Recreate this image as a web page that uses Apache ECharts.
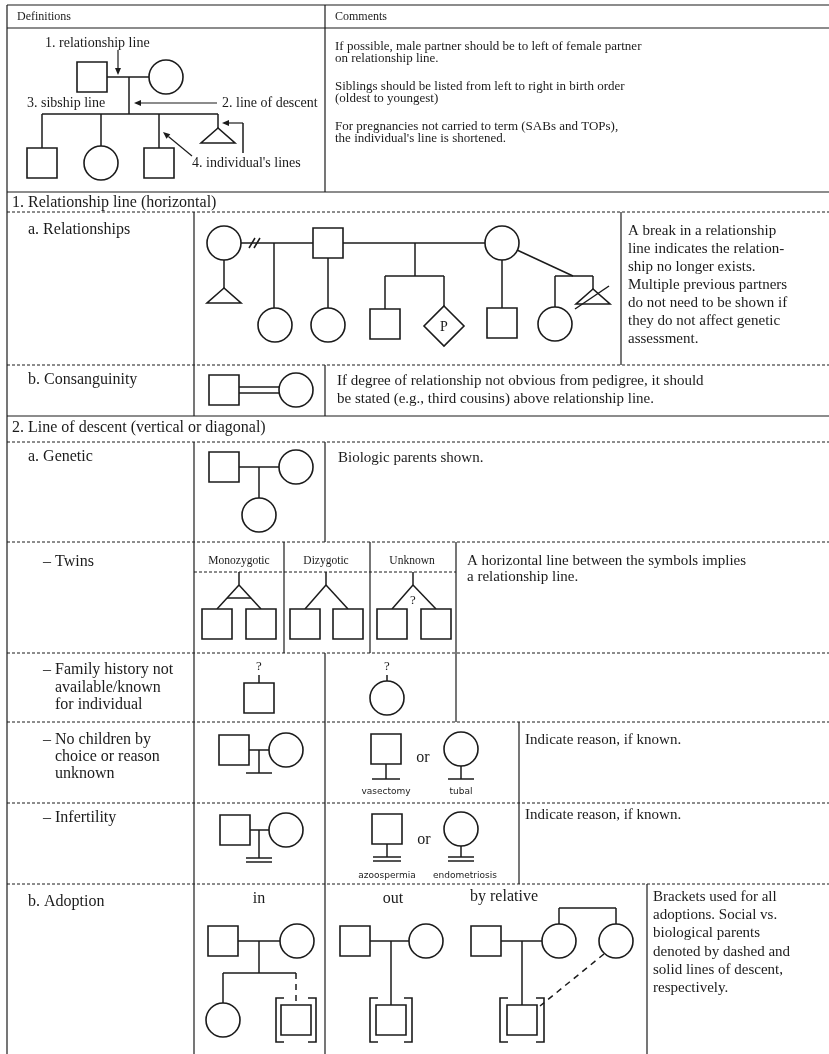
<!DOCTYPE html>
<html><head><meta charset="utf-8">
<script src="https://cdn.jsdelivr.net/npm/echarts/dist/echarts.min.js"></script>
<style>html,body{margin:0;padding:0;background:#fff}#c{width:829px;height:1054px}</style>
</head><body><div id="c"></div>
<script>
// ---------- table rules ----------
const tableSolid = [
  [7,5,829,5],[7,28,829,28],[7,192,829,192],[7,416,829,416],
  [7,5,7,1054],[325,5,325,192],
  [194,212,194,416],[194,442,194,1054],[621,212,621,365],
  [325,365,325,416],[325,442,325,542],[284,542,284,653],[370,542,370,653],[456,542,456,722],
  [325,653,325,1054],[519,722,519,884],[647,884,647,1054]
];
const tableDashed = [
  [7,212,829,212],[7,365,829,365],[7,442,829,442],[7,542,829,542],[194,572,456,572],
  [7,653,829,653],[7,722,829,722],[7,803,829,803],[7,884,829,884]
];
// ---------- pedigree symbols ----------
const squares = [
  [92,77],[42,163],[159,163],
  [328,243],[385,324],[502,323],
  [224,390],
  [224,467],
  [217,624],[261,624],[305,624],[348,624],[392,624],[436,624],
  [259,698],
  [234,750],[386,749],
  [235,830],[387,829],
  [223,941],[296,1020],[355,941],[391,1020],[486,941],[522,1020]
];
const circles = [
  [166,77],[101,163],
  [224,243],[275,325],[328,325],[502,243],[555,324],
  [296,390],
  [296,467],[259,515],
  [387,698],
  [286,750],[461,749],
  [286,830],[461,829],
  [297,941],[223,1020],[426,941],[559,941],[616,941]
];
const triangles = [[218,128],[224,288],[593,289]];
const diamonds = [[444,326,'P']];
const lines = [
  [107,77,149,77],[129,77,129,114],[42,114,218,114],[42,114,42,148],[101,114,101,146],[159,114,159,148],[218,114,218,128],[243,123,243,153],
  [241,243,313,243],[249,248,255,238],[254,248,260,238],[274,243,274,308],[328,258,328,308],[343,243,485,243],
  [415,243,415,276],[385,276,444,276],[385,276,385,309],[444,276,444,306],[502,260,502,308],
  [517,250,573,276],[555,276,593,276],[555,276,555,307],[593,276,593,289],[224,260,224,288],[575,309,609,286],
  [239,387,279,387],[239,393,279,393],
  [239,467,279,467],[259,467,259,498],
  [239,572,239,585],[239,585,217,609],[239,585,261,609],[227,598,251,598],
  [326,572,326,585],[326,585,305,609],[326,585,348,609],
  [413,572,413,585],[413,585,392,609],[413,585,436,609],
  [259,675,259,683],[387,675,387,681],
  [249,750,269,750],[259,750,259,773],[246,773,272,773],[386,764,386,779],[372,779,400,779],[461,766,461,779],[448,779,474,779],
  [250,830,269,830],[259,830,259,858],[246,858,272,858],[246,862,272,862],[387,844,387,857],[373,857,401,857],[373,861,401,861],
  [461,846,461,857],[448,857,474,857],[448,861,474,861],
  [238,941,280,941],[259,941,259,973],[223,973,296,973],[223,973,223,1003],
  [370,941,409,941],[391,941,391,1005],
  [501,941,542,941],[522,941,522,1005],[559,924,559,908],[559,908,616,908],[616,908,616,924]
];
const dashedLines = [[296,973,296,1005],[604,954,540,1006]];
const arrows = [[118,50,118,75],[217,103,134,103],[243,123,222,123],[192,156,163,132]];
const brackets = [[276,316,998,1042],[370,412,998,1042],[500,544,998,1042]];
// ---------- texts ----------
const headerTexts = [['Definitions',17,17],['Comments',335,17]];
const defTexts = [['1. relationship line',45,43],['3. sibship line',27,103],['2. line of descent',222,103],["4. individual's lines",192,163]];
const commentTexts = [
  ['If possible, male partner should be to left of female partner',335,47],['on relationship line.',335,59],
  ['Siblings should be listed from left to right in birth order',335,87],['(oldest to youngest)',335,99],
  ['For pregnancies not carried to term (SABs and TOPs),',335,127],["the individual's line is shortened.",335,139]
];
const sectionTexts = [['1. Relationship line (horizontal)',12,203],['2. Line of descent (vertical or diagonal)',12,428]];
const labelTexts = [
  ['a. Relationships',28,230],['b. Consanguinity',28,380],['a. Genetic',28,457],['– Twins',43,562],
  ['– Family history not',43,670],['available/known',55,688],['for individual',55,705],
  ['– No children by',43,740],['choice or reason',55,757],['unknown',55,774],
  ['– Infertility',43,818],['b. Adoption',28,902]
];
const bodyTexts = [
  ['A break in a relationship',628,231],['line indicates the relation-',628,249],['ship no longer exists.',628,267],
  ['Multiple previous partners',628,285],['do not need to be shown if',628,303],['they do not affect genetic',628,321],['assessment.',628,339],
  ['If degree of relationship not obvious from pedigree, it should',337,381],['be stated (e.g., third cousins) above relationship line.',337,399],
  ['Biologic parents shown.',338,458],
  ['A horizontal line between the symbols implies',467,561],['a relationship line.',467,577],
  ['Indicate reason, if known.',525,740],['Indicate reason, if known.',525,815],
  ['Brackets used for all',653,897],['adoptions. Social vs.',653,915],['biological parents',653,933],
  ['denoted by dashed and',653,952],['solid lines of descent,',653,970],['respectively.',653,988]
];
const twinTexts = [['Monozygotic',239,561],['Dizygotic',326,561],['Unknown',412,561]];
const markTexts = [['?',413,601],['?',259,667],['?',387,667]];
const tinyTexts = [['vasectomy',386,792],['tubal',461,792],['azoospermia',387,876],['endometriosis',465,876]];
const wordTexts = [['or',423,758],['or',424,840],['in',259,899],['out',393,899],['by relative',504,897]];

// ---------- rendering ----------
const INK = '#1b1b1b';
const SERIF = '"Liberation Serif","DejaVu Serif",serif';
const SQ = 30, R = 17;
function base(name, arr, build, xi, yi){
  return {type:'custom', name, coordinateSystem:'cartesian2d', clip:false, silent:true, animation:false,
    data: arr.map((d,i)=>[d[xi||0], d[yi||1], i]),
    renderItem:(params, api)=>build(arr[params.dataIndex], api)};
}
function segSeries(name, arr, width, dash){
  return base(name, arr, (d, api)=>{
    const a = api.coord([d[0],d[1]]), b = api.coord([d[2],d[3]]);
    return {type:'line', shape:{x1:a[0],y1:a[1],x2:b[0],y2:b[1]}, style:{stroke:INK, lineWidth:width, lineDash:dash||null}};
  });
}
function textSeries(name, arr, font, align){
  return base(name, arr, (d, api)=>{
    const p = api.coord([d[1],d[2]]);
    return {type:'text', x:p[0], y:p[1], style:{text:d[0], font:font, fill:INK, textAlign:align, align:align, textVerticalAlign:'middle', verticalAlign:'middle'}};
  }, 1, 2);
}
const series = [
  segSeries('tableSolid', tableSolid, 1.2),
  segSeries('tableDashed', tableDashed, 1, [3,2]),
  segSeries('lines', lines, 1.5),
  segSeries('dashedLines', dashedLines, 1.5, [6,5]),
  base('squares', squares, (d, api)=>{
    const p = api.coord([d[0],d[1]]);
    return {type:'rect', shape:{x:p[0]-SQ/2, y:p[1]-SQ/2, width:SQ, height:SQ}, style:{fill:'#fff', stroke:INK, lineWidth:1.6}};
  }),
  base('circles', circles, (d, api)=>{
    const p = api.coord([d[0],d[1]]);
    return {type:'circle', shape:{cx:p[0], cy:p[1], r:R}, style:{fill:'#fff', stroke:INK, lineWidth:1.6}};
  }),
  base('triangles', triangles, (d, api)=>{
    const p = api.coord([d[0],d[1]]);
    return {type:'polygon', shape:{points:[[p[0],p[1]],[p[0]-17,p[1]+15],[p[0]+17,p[1]+15]]}, style:{fill:'none', stroke:INK, lineWidth:1.6}};
  }),
  base('diamonds', diamonds, (d, api)=>{
    const p = api.coord([d[0],d[1]]);
    return {type:'group', children:[
      {type:'polygon', shape:{points:[[p[0],p[1]-20],[p[0]+20,p[1]],[p[0],p[1]+20],[p[0]-20,p[1]]]}, style:{fill:'#fff', stroke:INK, lineWidth:1.6}},
      {type:'text', x:p[0], y:p[1]+1, style:{text:d[2], font:'14px '+SERIF, fill:INK, textAlign:'center', align:'center', textVerticalAlign:'middle', verticalAlign:'middle'}}
    ]};
  }),
  base('arrows', arrows, (d, api)=>{
    const a = api.coord([d[0],d[1]]), b = api.coord([d[2],d[3]]);
    const ang = Math.atan2(b[1]-a[1], b[0]-a[0]), L = 7, W = 3;
    const c = Math.cos(ang), s = Math.sin(ang);
    const p1 = [b[0]-L*c+W*s, b[1]-L*s-W*c], p2 = [b[0]-L*c-W*s, b[1]-L*s+W*c];
    return {type:'group', children:[
      {type:'line', shape:{x1:a[0],y1:a[1],x2:b[0]-L*c,y2:b[1]-L*s}, style:{stroke:INK, lineWidth:1.2}},
      {type:'polygon', shape:{points:[b,p1,p2]}, style:{fill:INK}}
    ]};
  }),
  base('brackets', brackets, (d, api)=>{
    const tl = api.coord([d[0],d[2]]), br = api.coord([d[1],d[3]]), t = 8;
    return {type:'group', children:[
      {type:'polyline', shape:{points:[[tl[0]+t,tl[1]],[tl[0],tl[1]],[tl[0],br[1]],[tl[0]+t,br[1]]]}, style:{fill:'none', stroke:INK, lineWidth:1.6}},
      {type:'polyline', shape:{points:[[br[0]-t,tl[1]],[br[0],tl[1]],[br[0],br[1]],[br[0]-t,br[1]]]}, style:{fill:'none', stroke:INK, lineWidth:1.6}}
    ]};
  }, 0, 2),
  textSeries('headerTexts', headerTexts, '12px '+SERIF, 'left'),
  textSeries('defTexts', defTexts, '14px '+SERIF, 'left'),
  textSeries('commentTexts', commentTexts, '13px '+SERIF, 'left'),
  textSeries('sectionTexts', sectionTexts, '16px '+SERIF, 'left'),
  textSeries('labelTexts', labelTexts, '16px '+SERIF, 'left'),
  textSeries('bodyTexts', bodyTexts, '15px '+SERIF, 'left'),
  textSeries('twinTexts', twinTexts, '11.5px '+SERIF, 'center'),
  textSeries('markTexts', markTexts, '13px '+SERIF, 'center'),
  textSeries('tinyTexts', tinyTexts, '9px "DejaVu Sans",sans-serif', 'center'),
  textSeries('wordTexts', wordTexts, '16px '+SERIF, 'center')
];
const chart = echarts.init(document.getElementById('c'), null, {renderer:'canvas'});
chart.setOption({
  animation:false,
  backgroundColor:'#fff',
  grid:{left:0, right:0, top:0, bottom:0},
  xAxis:{type:'value', min:0, max:829, show:false},
  yAxis:{type:'value', min:0, max:1054, inverse:true, show:false},
  series: series
});
</script></body></html>
